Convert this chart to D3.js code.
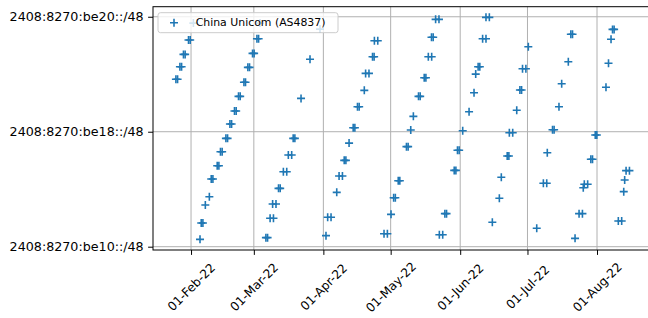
<!DOCTYPE html>
<html><head><meta charset="utf-8">
<script src="https://cdn.jsdelivr.net/npm/d3@7"></script>
<style>html,body{margin:0;padding:0;background:#fff;} svg{display:block;font-family:"DejaVu Sans",sans-serif;}</style>
</head><body><svg id="chart" width="648" height="318"></svg>
<script>
const seriesName = "China Unicom (AS4837)";
// observation times
const timestamps = [
"2022-01-25 06","2022-01-26 00","2022-01-27 01","2022-01-27 19","2022-01-28 15","2022-01-29 09","2022-01-30 21","2022-01-31 15","2022-02-02 01",
"2022-02-05 00","2022-02-05 13","2022-02-06 07","2022-02-07 09","2022-02-09 04","2022-02-10 00","2022-02-10 18","2022-02-12 16","2022-02-13 10",
"2022-02-14 03","2022-02-14 21","2022-02-16 13","2022-02-17 07","2022-02-18 08","2022-02-19 02","2022-02-20 09","2022-02-21 03","2022-02-22 04",
"2022-02-22 22","2022-02-24 14","2022-02-25 07","2022-02-26 08","2022-02-27 02","2022-02-28 10","2022-03-01 03","2022-03-02 09","2022-03-03 03","2022-03-03 18",
"2022-03-06 09","2022-03-07 03","2022-03-08 06","2022-03-09 18","2022-03-09 09","2022-03-10 21","2022-03-12 00","2022-03-12 18","2022-03-14 04",
"2022-03-15 16","2022-03-16 09","2022-03-17 21","2022-03-18 13","2022-03-19 07","2022-03-22 01","2022-03-26 01","2022-03-30 12",
"2022-04-02 04","2022-04-02 22","2022-04-04 10","2022-04-06 23","2022-04-08 00","2022-04-09 12","2022-04-10 07","2022-04-11 01","2022-04-12 11",
"2022-04-14 07","2022-04-15 01","2022-04-16 05","2022-04-16 23","2022-04-19 06","2022-04-19 20","2022-04-21 08","2022-04-22 22","2022-04-23 15",
"2022-04-23 18","2022-04-25 06",
"2022-04-28 01","2022-04-29 13","2022-05-01 04","2022-05-02 08","2022-05-03 02","2022-05-04 09","2022-05-05 02","2022-05-08 01","2022-05-08 19",
"2022-05-09 23","2022-05-11 03","2022-05-13 10","2022-05-14 04","2022-05-15 23","2022-05-16 17","2022-05-17 19","2022-05-19 07","2022-05-19 05",
"2022-05-19 23","2022-05-21 01","2022-05-22 13",
"2022-05-22 17","2022-05-24 05","2022-05-25 04","2022-05-25 22","2022-05-29 08","2022-05-30 02","2022-05-30 19","2022-05-31 13","2022-06-02 03",
"2022-06-04 23","2022-06-07 04","2022-06-07 22","2022-06-09 00","2022-06-09 18","2022-06-11 00","2022-06-12 12","2022-06-12 12","2022-06-14 00",
"2022-06-15 08","2022-06-18 11","2022-06-19 08","2022-06-21 23","2022-06-22 17","2022-06-22 22","2022-06-24 10","2022-06-26 05","2022-06-27 15",
"2022-06-28 09","2022-06-28 19","2022-06-30 07","2022-07-01 09",
"2022-07-05 03","2022-07-08 02","2022-07-09 14","2022-07-09 20","2022-07-12 04","2022-07-12 21","2022-07-15 01","2022-07-16 06","2022-07-19 05",
"2022-07-20 08","2022-07-21 02",
"2022-07-22 05","2022-07-24 00","2022-07-25 12","2022-07-25 21","2022-07-26 08","2022-07-27 20","2022-07-29 06","2022-07-30 00","2022-07-31 05",
"2022-07-31 22","2022-08-05 00","2022-08-06 03","2022-08-07 06","2022-08-07 22","2022-08-08 15",
"2022-08-10 12","2022-08-12 00","2022-08-12 22","2022-08-13 08","2022-08-13 23","2022-08-15 11"
];
// third hextet of the prefix minus 0xbe00 (0x10 = be10, 0x20 = be20)
const prefixOffsets = [
27.65,27.65,28.52,28.52,29.38,29.38,30.38,30.38,31.56,
16.51,17.65,17.65,18.90,19.48,20.71,20.71,21.63,21.63,
22.61,22.61,23.54,23.54,24.54,24.54,25.44,25.44,26.46,
26.46,27.44,27.44,28.48,28.48,29.45,29.45,30.47,30.47,31.56,
16.63,16.63,17.98,17.98,18.97,18.97,20.06,20.06,21.22,
21.22,22.38,22.38,23.54,23.54,26.32,29.04,31.14,
16.77,18.05,18.05,19.78,20.92,20.92,22.01,22.01,23.21,
24.28,24.28,25.74,25.74,26.88,28.06,28.06,29.22,29.22,
30.33,30.33,
16.90,16.90,18.25,19.41,19.41,20.59,20.59,22.96,22.96,
24.12,25.07,26.46,26.46,27.76,27.76,29.22,29.22,30.57,
30.57,31.82,31.82,
16.83,16.83,18.30,18.30,21.31,21.31,22.71,22.71,24.07,
25.39,26.71,28.01,28.52,28.52,30.47,30.47,31.96,31.96,
17.70,19.37,20.83,22.31,22.31,23.93,23.93,25.49,26.90,
26.90,28.38,28.38,29.91,
17.28,20.41,20.41,22.54,24.14,24.14,25.74,27.34,28.87,
30.78,30.78,
16.58,18.30,18.30,20.10,20.34,20.34,22.08,22.08,23.77,
23.77,27.09,28.76,30.43,31.12,31.12,
17.79,17.79,19.83,20.64,21.29,21.29
];
const yTickValues = [16, 24, 32];
const yTickLabels = ["2408:8270:be10::/48", "2408:8270:be18::/48", "2408:8270:be20::/48"];
const xTickDates = ["2022-02-01","2022-03-01","2022-04-01","2022-05-01","2022-06-01","2022-07-01","2022-08-01"];
const xDomain = ["2022-01-15 01", "2022-08-24 15"];
const yDomain = [15.77, 32.70];

const parseT = d3.timeParse("%Y-%m-%d %H");
const parseD = d3.timeParse("%Y-%m-%d");
const L = 153, R = 650, T = 6.7, B = 250;
const color = "#1f77b4";

const svg = d3.select("#chart");
const x = d3.scaleTime().domain(xDomain.map(parseT)).range([L, R]);
const y = d3.scaleLinear().domain(yDomain).range([B, T]);
const xt = xTickDates.map(parseD);

// grid
const grid = svg.append("g").attr("stroke", "#b0b0b0").attr("stroke-width", 1);
grid.selectAll("line.gx").data(xt).join("line").attr("class","gx")
  .attr("x1", d => x(d)).attr("x2", d => x(d)).attr("y1", T).attr("y2", B);
grid.selectAll("line.gy").data(yTickValues).join("line").attr("class","gy")
  .attr("x1", L).attr("x2", R).attr("y1", d => y(d)).attr("y2", d => y(d));

// points
const plus = "M-4,0H4M0,-4V4";
const pts = timestamps.map((t, i) => ({t: parseT(t), v: prefixOffsets[i]}));
svg.append("g").selectAll("path").data(pts).join("path")
  .attr("d", plus).attr("transform", d => `translate(${x(d.t)},${y(d.v)})`)
  .attr("fill", "none").attr("stroke", color).attr("stroke-width", 1.6);

// axes
const xAxis = svg.append("g").attr("transform", `translate(0,${B})`)
  .call(d3.axisBottom(x).tickValues(xt).tickFormat(d3.timeFormat("%d-%b-%y")).tickSize(4.9).tickSizeOuter(0));
xAxis.select(".domain").remove();
xAxis.selectAll(".tick line").attr("stroke", "#000").attr("stroke-width", 1);
xAxis.selectAll(".tick text").attr("y", 0).attr("dy", null)
  .attr("dominant-baseline", "central").attr("text-anchor", "middle")
  .attr("transform", "translate(0,37.3) rotate(-45)")
  .attr("font-size", 12.2).attr("font-family", "DejaVu Sans").attr("fill", "#000");

const yAxis = svg.append("g").attr("transform", `translate(${L},0)`)
  .call(d3.axisLeft(y).tickValues(yTickValues).tickFormat((d, i) => yTickLabels[i]).tickSize(4.9).tickPadding(4.4).tickSizeOuter(0));
yAxis.select(".domain").remove();
yAxis.selectAll(".tick line").attr("stroke", "#000").attr("stroke-width", 1);
yAxis.selectAll(".tick text").attr("font-size", 12.7).attr("font-family", "DejaVu Sans").attr("fill", "#000");

// spines
svg.append("rect").attr("x", L).attr("y", T).attr("width", R - L).attr("height", B - T)
  .attr("fill", "none").attr("stroke", "#000").attr("stroke-width", 1);

// legend
const lg = svg.append("g");
lg.append("rect").attr("x", 158).attr("y", 12.7).attr("width", 180).attr("height", 20).attr("rx", 2.5)
  .attr("fill", "#fff").attr("fill-opacity", 0.8).attr("stroke", "#cccccc").attr("stroke-width", 1);
lg.append("path").attr("d", plus).attr("transform", "translate(174,22.7)")
  .attr("fill", "none").attr("stroke", color).attr("stroke-width", 1.6);
lg.append("text").attr("x", 195.7).attr("y", 22.7).attr("dominant-baseline", "central")
  .attr("font-size", 10.9).attr("fill", "#000").text(seriesName);
</script></body></html>
